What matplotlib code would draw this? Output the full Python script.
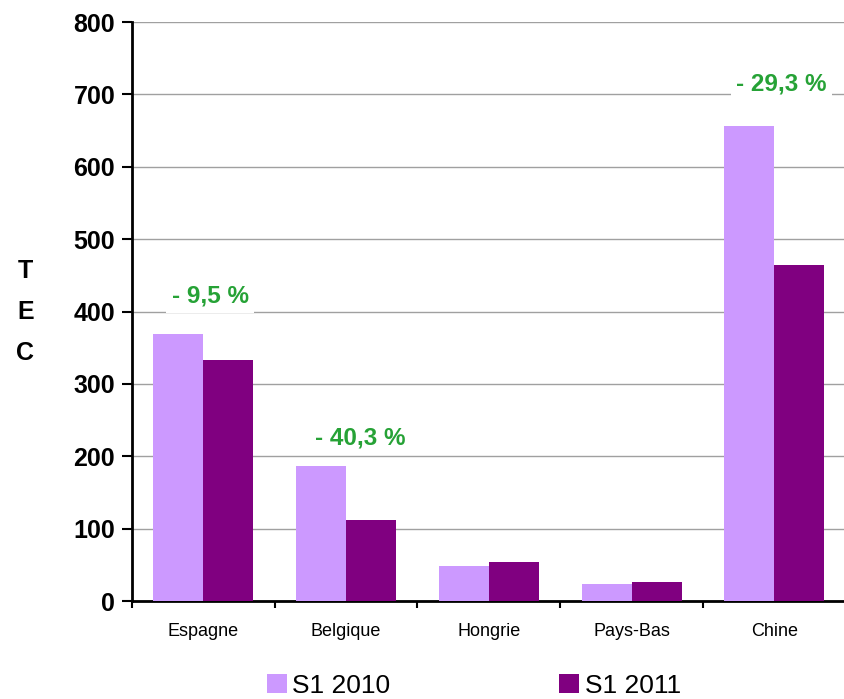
import matplotlib
matplotlib.use("Agg")
import matplotlib.pyplot as plt
import numpy as np

plt.rcParams["font.family"] = ["Liberation Sans", "DejaVu Sans"]

categories = ["Espagne", "Belgique", "Hongrie", "Pays-Bas", "Chine"]
s1_2010 = [369, 186, 48, 23, 656]
s1_2011 = [333, 112, 54, 26, 465]
series_names = ["S1 2010", "S1 2011"]

# percent labels: (category index, y value, text)
pct_labels = [(0, 421, "- 9,5 %"), (1, 226, "- 40,3 %"), (4, 715, "- 29,3 %")]
pct_dx = [0.05, 0.1, 0.05]

C2010 = "#CC99FF"
C2011 = "#800080"
GREEN = "#26A236"

fig = plt.figure(figsize=(8.45, 6.99), dpi=100)
ax = fig.add_axes([0.156, 0.140, 0.845, 0.8285])

x = np.arange(len(categories))
w = 0.35
b1 = ax.bar(x - w / 2, s1_2010, w, color=C2010, label=series_names[0], zorder=3)
b2 = ax.bar(x + w / 2, s1_2011, w, color=C2011, label=series_names[1], zorder=3)

ax.set_xlim(-0.5, len(categories) - 0.5)
ax.set_ylim(0, 800)
ax.set_yticks(range(0, 801, 100))
ax.yaxis.grid(True, color="#A0A0A0", linewidth=1, zorder=0)
ax.set_axisbelow(True)

ax.set_xticks(np.arange(-0.5, len(categories), 1.0))
ax.set_xticklabels([])
ax.set_xticks(x, minor=True)
ax.set_xticklabels(categories, minor=True, fontsize=13)
ax.tick_params(axis="x", which="minor", length=0, pad=16)
ax.tick_params(axis="x", which="major", length=5, width=1.5, direction="out")
ax.tick_params(axis="y", length=7, width=1.5, direction="out", labelsize=18, pad=5)
for lab in ax.get_yticklabels():
    lab.set_fontweight("bold")

for side in ("top", "right"):
    ax.spines[side].set_visible(False)
for side in ("left", "bottom"):
    ax.spines[side].set_linewidth(2)

for (i, yv, txt), dx in zip(pct_labels, pct_dx):
    ax.text(x[i] + dx, yv, txt, ha="center", va="center", fontsize=17.5,
            fontweight="bold", color=GREEN, zorder=4,
            bbox=dict(facecolor="white", edgecolor="none", pad=4))

for k, ch in enumerate("TEC"):
    fig.text(0.03, 0.613 - k * 0.059, ch, ha="center", va="center",
             fontsize=18, fontweight="bold")

fig.legend(handles=[b1, b2], labels=series_names, loc="center",
           bbox_to_anchor=(0.561, 0.019), ncol=2, frameon=False,
           fontsize=19, handlelength=0.75, handleheight=0.75,
           handletextpad=0.2, columnspacing=6.4)

fig.savefig("out.png", dpi=100)
